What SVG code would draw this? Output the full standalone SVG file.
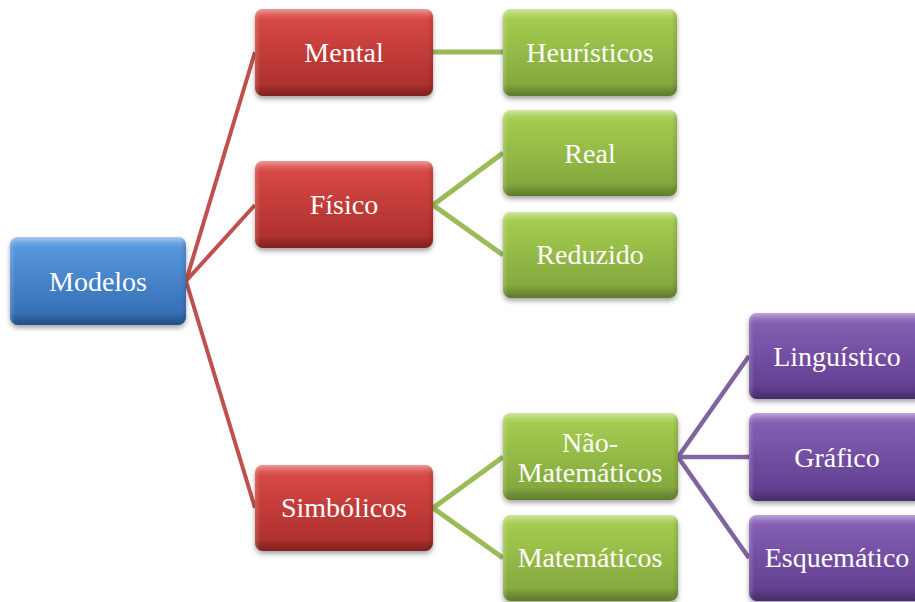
<svg xmlns="http://www.w3.org/2000/svg" width="915" height="602" viewBox="0 0 915 602">
  <defs>
    <linearGradient id="gBlue" x1="0" y1="0" x2="0" y2="1">
      <stop offset="0" stop-color="#5d9ce2"/>
      <stop offset="1" stop-color="#2f69b0"/>
    </linearGradient>
    <linearGradient id="gRed" x1="0" y1="0" x2="0" y2="1">
      <stop offset="0" stop-color="#dc4c48"/>
      <stop offset="1" stop-color="#a82c2a"/>
    </linearGradient>
    <linearGradient id="gGreen" x1="0" y1="0" x2="0" y2="1">
      <stop offset="0" stop-color="#a9d152"/>
      <stop offset="1" stop-color="#7fa23b"/>
    </linearGradient>
    <linearGradient id="gPurple" x1="0" y1="0" x2="0" y2="1">
      <stop offset="0" stop-color="#8862b6"/>
      <stop offset="1" stop-color="#5d3b8c"/>
    </linearGradient>
    <!-- bevel: light top rim, dark bottom rim -->
    <linearGradient id="gBevel" x1="0" y1="0" x2="0" y2="1">
      <stop offset="0" stop-color="#fff" stop-opacity="0.45"/>
      <stop offset="0.07" stop-color="#fff" stop-opacity="0.12"/>
      <stop offset="0.12" stop-color="#fff" stop-opacity="0"/>
      <stop offset="0.86" stop-color="#000" stop-opacity="0"/>
      <stop offset="0.92" stop-color="#000" stop-opacity="0.12"/>
      <stop offset="1" stop-color="#000" stop-opacity="0.25"/>
    </linearGradient>
    <linearGradient id="gSide" x1="0" y1="0" x2="1" y2="0">
      <stop offset="0" stop-color="#fff" stop-opacity="0.18"/>
      <stop offset="0.03" stop-color="#fff" stop-opacity="0"/>
      <stop offset="0.97" stop-color="#000" stop-opacity="0"/>
      <stop offset="1" stop-color="#000" stop-opacity="0.12"/>
    </linearGradient>
    <filter id="shadow" x="-10%" y="-10%" width="120%" height="130%">
      <feDropShadow dx="0" dy="3" stdDeviation="2.5" flood-color="#000" flood-opacity="0.35"/>
    </filter>
  </defs>
  <style>
    .box { filter: url(#shadow); }
    .bevel { fill: url(#gBevel); }
    .side { fill: url(#gSide); }
    .blue { fill: url(#gBlue); }
    .red { fill: url(#gRed); }
    .green { fill: url(#gGreen); }
    .purple { fill: url(#gPurple); }
    text { font-family: "Liberation Serif", "Times New Roman", serif; font-size: 28px; fill: #ffffff; text-anchor: middle; }
    .c-red { stroke: #c0504d; stroke-width: 4; fill: none; }
    .c-green { stroke: #9bbb59; stroke-width: 5; fill: none; }
    .c-purple { stroke: #8064a2; stroke-width: 4.5; fill: none; }
  </style>
  <rect width="915" height="602" fill="#ffffff"/>

  <g id="connectors">
    <path class="c-red" d="M186 281 L255 52 M186 281 L255 205 M186 281 L255 508"/>
    <path class="c-green" d="M433 52 L503 52 M433 205 L503 153 M433 205 L503 255 M433 508 L503 457 M433 508 L503 558"/>
    <path class="c-purple" d="M678 457 L749 356 M678 457 L749 457 M678 457 L749 558"/>
  </g>

  <g id="modelos">
    <g class="box"><rect class="blue" x="10" y="237" width="176" height="88" rx="8"/></g>
    <rect class="bevel" x="10" y="237" width="176" height="88" rx="8"/>
    <rect class="side" x="10" y="237" width="176" height="88" rx="8"/>
    <text x="98" y="291">Modelos</text>
  </g>

  <g id="mental">
    <g class="box"><rect class="red" x="255" y="9" width="178" height="87" rx="8"/></g>
    <rect class="bevel" x="255" y="9" width="178" height="87" rx="8"/>
    <rect class="side" x="255" y="9" width="178" height="87" rx="8"/>
    <text x="344" y="62">Mental</text>
  </g>

  <g id="fisico">
    <g class="box"><rect class="red" x="255" y="161" width="178" height="87" rx="8"/></g>
    <rect class="bevel" x="255" y="161" width="178" height="87" rx="8"/>
    <rect class="side" x="255" y="161" width="178" height="87" rx="8"/>
    <text x="344" y="214">Físico</text>
  </g>

  <g id="simbolicos">
    <g class="box"><rect class="red" x="255" y="465" width="178" height="86" rx="8"/></g>
    <rect class="bevel" x="255" y="465" width="178" height="86" rx="8"/>
    <rect class="side" x="255" y="465" width="178" height="86" rx="8"/>
    <text x="344" y="517">Simbólicos</text>
  </g>

  <g id="heuristicos">
    <g class="box"><rect class="green" x="503" y="9" width="174" height="87" rx="8"/></g>
    <rect class="bevel" x="503" y="9" width="174" height="87" rx="8"/>
    <rect class="side" x="503" y="9" width="174" height="87" rx="8"/>
    <text x="590" y="62">Heurísticos</text>
  </g>

  <g id="real">
    <g class="box"><rect class="green" x="503" y="110" width="174" height="86" rx="8"/></g>
    <rect class="bevel" x="503" y="110" width="174" height="86" rx="8"/>
    <rect class="side" x="503" y="110" width="174" height="86" rx="8"/>
    <text x="590" y="163">Real</text>
  </g>

  <g id="reduzido">
    <g class="box"><rect class="green" x="503" y="212" width="174" height="86" rx="8"/></g>
    <rect class="bevel" x="503" y="212" width="174" height="86" rx="8"/>
    <rect class="side" x="503" y="212" width="174" height="86" rx="8"/>
    <text x="590" y="264">Reduzido</text>
  </g>

  <g id="nao-matematicos">
    <g class="box"><rect class="green" x="503" y="413" width="175" height="87" rx="8"/></g>
    <rect class="bevel" x="503" y="413" width="175" height="87" rx="8"/>
    <rect class="side" x="503" y="413" width="175" height="87" rx="8"/>
    <text x="590" y="452">Não-</text>
    <text x="590" y="482">Matemáticos</text>
  </g>

  <g id="matematicos">
    <g class="box"><rect class="green" x="503" y="515" width="175" height="86" rx="8"/></g>
    <rect class="bevel" x="503" y="515" width="175" height="86" rx="8"/>
    <rect class="side" x="503" y="515" width="175" height="86" rx="8"/>
    <text x="590" y="567">Matemáticos</text>
  </g>

  <g id="linguistico">
    <g class="box"><rect class="purple" x="749" y="313" width="176" height="86" rx="8"/></g>
    <rect class="bevel" x="749" y="313" width="176" height="86" rx="8"/>
    <rect class="side" x="749" y="313" width="176" height="86" rx="8"/>
    <text x="837" y="366">Linguístico</text>
  </g>

  <g id="grafico">
    <g class="box"><rect class="purple" x="749" y="413" width="176" height="88" rx="8"/></g>
    <rect class="bevel" x="749" y="413" width="176" height="88" rx="8"/>
    <rect class="side" x="749" y="413" width="176" height="88" rx="8"/>
    <text x="837" y="467">Gráfico</text>
  </g>

  <g id="esquematico">
    <g class="box"><rect class="purple" x="749" y="515" width="176" height="86" rx="8"/></g>
    <rect class="bevel" x="749" y="515" width="176" height="86" rx="8"/>
    <rect class="side" x="749" y="515" width="176" height="86" rx="8"/>
    <text x="837" y="567">Esquemático</text>
  </g>
</svg>
